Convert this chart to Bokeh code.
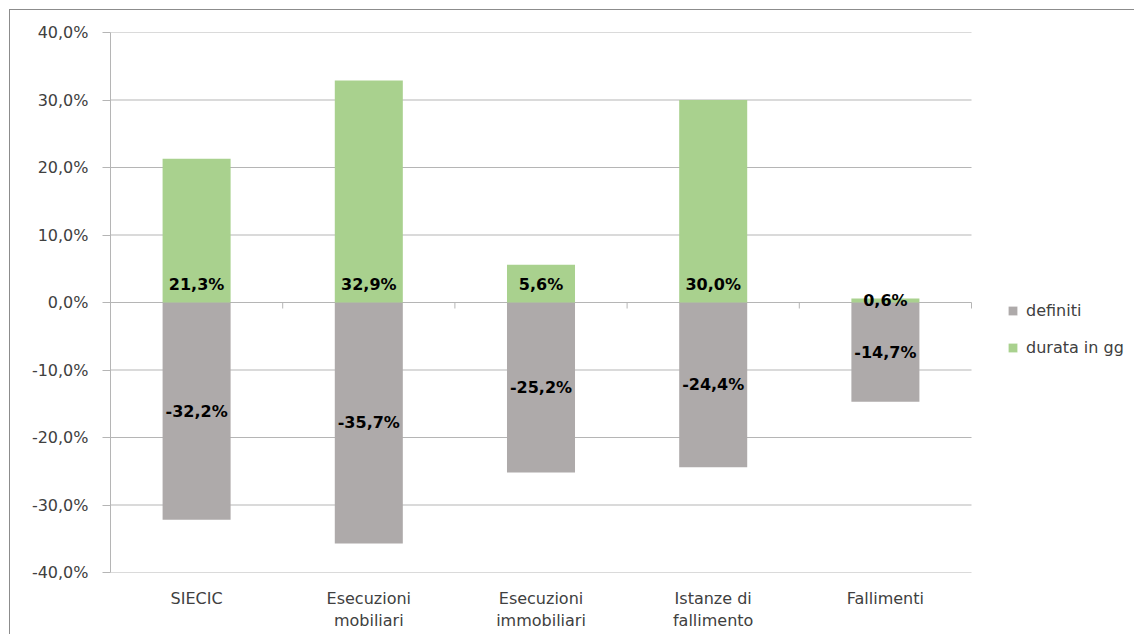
from bokeh.plotting import figure
from bokeh.models import (ColumnDataSource, FixedTicker, Range1d, Legend, LegendItem)
from bokeh.core.properties import value
from bokeh.embed import file_html
from bokeh.resources import INLINE

# ---- data -------------------------------------------------------------
categories = ["SIECIC", "Esecuzioni\nmobiliari", "Esecuzioni\nimmobiliari",
              "Istanze di\nfallimento", "Fallimenti"]
definiti = [-32.2, -35.7, -25.2, -24.4, -14.7]
durata = [21.3, 32.9, 5.6, 30.0, 0.6]
y_ticks = [-40, -30, -20, -10, 0, 10, 20, 30, 40]
y_tick_labels = ["-40,0%", "-30,0%", "-20,0%", "-10,0%", "0,0%",
                 "10,0%", "20,0%", "30,0%", "40,0%"]
series_names = ["definiti", "durata in gg"]
colors = ["#aeaaaa", "#a9d18e"]

FONT = "DejaVu Sans"
GRID = "#b5b5b5"
TXT = "#404040"

OFF = 10                      # canvas offset (outer chart border)
W, H = 1125, 625
LEFT, TOP, FW, FH = 110 - OFF, 32 - OFF, 861, 540   # FW: width of category area
FRAME_W = W - LEFT                                   # frame also holds legend

n = len(categories)
xs = [i + 0.5 for i in range(n)]
x_end = n * FRAME_W / FW


def fmt(v):
    return f"{v:.1f}".replace(".", ",") + "%"


px_per_unit = FH / (y_ticks[-1] - y_ticks[0])

src = ColumnDataSource(dict(
    x=xs, definiti=definiti, durata=durata,
    def_lab=[fmt(v) for v in definiti],
    def_y=[v / 2 for v in definiti],
))

big = [v * px_per_unit >= 20 for v in durata]
src_big = ColumnDataSource(dict(
    x=[x for x, b in zip(xs, big) if b],
    y=[0 for b in big if b],
    lab=[fmt(v) for v, b in zip(durata, big) if b]))
src_small = ColumnDataSource(dict(
    x=[x for x, b in zip(xs, big) if not b],
    y=[v / 2 for v, b in zip(durata, big) if not b],
    lab=[fmt(v) for v, b in zip(durata, big) if not b]))

p = figure(width=W, height=H, output_backend="svg", toolbar_location=None,
           x_range=Range1d(0, x_end), y_range=Range1d(y_ticks[0], y_ticks[-1]),
           min_border_left=LEFT, min_border_top=TOP,
           min_border_right=0, min_border_bottom=H - TOP - FH)
p.outline_line_color = None
p.background_fill_color = "white"
p.border_fill_color = "white"
p.margin = (OFF - 1, 0, 0, OFF - 1)
p.styles = {"border-top": "1px solid #8c8c8c", "border-left": "1px solid #8c8c8c"}

# grid (drawn only across the category area)
p.xgrid.visible = False
p.ygrid.visible = False
p.segment(x0=[0] * len(y_ticks), x1=[n] * len(y_ticks), y0=y_ticks, y1=y_ticks,
          line_color=GRID, line_width=1)

# y axis
p.yaxis.ticker = FixedTicker(ticks=y_ticks)
p.yaxis.major_label_overrides = dict(zip(y_ticks, y_tick_labels))
p.yaxis.axis_line_color = GRID
p.yaxis.major_tick_line_color = GRID
p.yaxis.major_tick_out = 8
p.yaxis.major_tick_in = 0
p.yaxis.minor_tick_line_color = None
p.yaxis.major_label_standoff = 14
p.yaxis.major_label_text_font = FONT
p.yaxis.major_label_text_font_size = "16px"
p.yaxis.major_label_text_color = TXT

# x axis (category labels only)
p.xaxis.ticker = FixedTicker(ticks=xs)
p.xaxis.major_label_overrides = dict(zip(xs, categories))
p.xaxis.axis_line_color = None
p.xaxis.major_tick_line_color = None
p.xaxis.minor_tick_line_color = None
p.xaxis.major_tick_out = 0
p.xaxis.major_label_standoff = 16
p.xaxis.major_label_text_font = FONT
p.xaxis.major_label_text_font_size = "16px"
p.xaxis.major_label_text_color = TXT
p.xaxis.major_label_text_line_height = 1.2

# bars
r_def = p.vbar(x="x", top="definiti", bottom=0, width=0.395, source=src,
               fill_color=colors[0], line_color=None)
r_dur = p.vbar(x="x", top="durata", bottom=0, width=0.395, source=src,
               fill_color=colors[1], line_color=None)

# horizontal category axis at zero with ticks between categories
tick_len = 6 / px_per_unit
bounds = list(range(1, n + 1))
p.segment(x0=bounds, x1=bounds, y0=[0] * len(bounds), y1=[-tick_len] * len(bounds),
          line_color=GRID, line_width=1)

# data labels
lab_kw = dict(text_font=value(FONT), text_font_size="16px", text_font_style="bold",
              text_color="black", text_align="center")
p.text(x="x", y="def_y", text="def_lab", source=src, text_baseline="middle", **lab_kw)
p.text(x="x", y="y", text="lab", source=src_big, text_baseline="alphabetic",
       y_offset=-18, **lab_kw)
p.text(x="x", y="y", text="lab", source=src_small, text_baseline="middle", **lab_kw)

# legend (inside the frame, to the right of the category area)
legend = Legend(items=[LegendItem(label=series_names[0], renderers=[r_def]),
                       LegendItem(label=series_names[1], renderers=[r_dur])],
                location=(897, 215), orientation="vertical",
                glyph_width=11, glyph_height=11, label_height=20, spacing=17,
                label_standoff=8, padding=0, margin=0,
                border_line_color=None, background_fill_alpha=0,
                label_text_font=FONT, label_text_font_size="16px",
                label_text_color=TXT)
p.add_layout(legend, "center")

open("out.html", "w").write(file_html(p, INLINE))
